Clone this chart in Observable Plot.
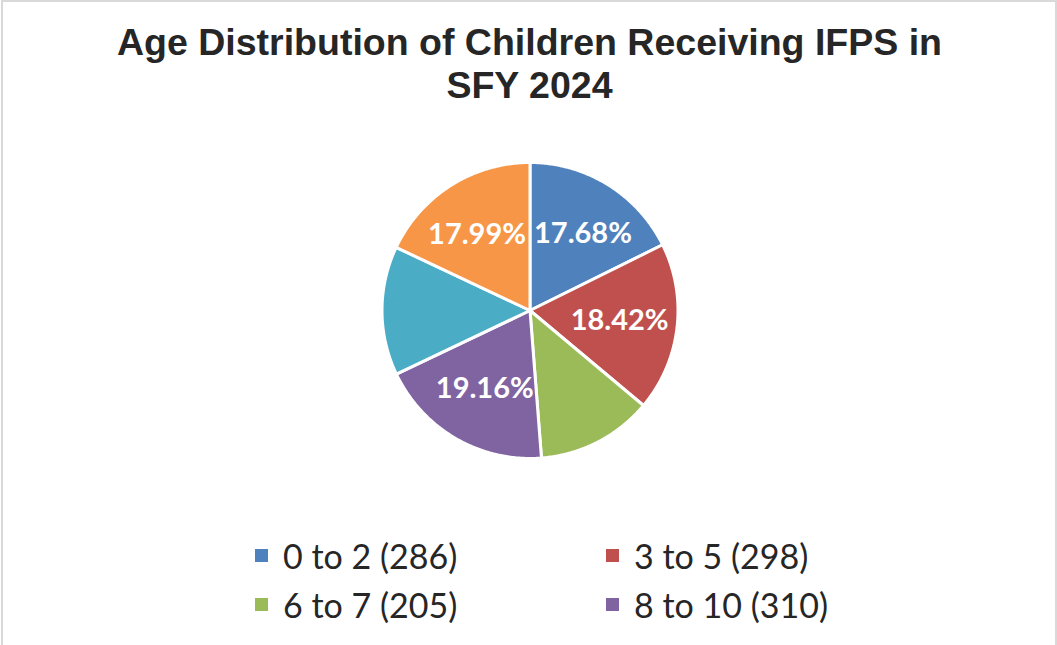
<!DOCTYPE html>
<html>
<head>
<meta charset="utf-8">
<script src="https://cdn.jsdelivr.net/npm/d3@7"></script>
<script src="https://cdn.jsdelivr.net/npm/@observablehq/plot@0.6"></script>
<style>
  html, body { margin: 0; padding: 0; background: #ffffff; }
  #page { position: relative; width: 1057px; height: 645px; overflow: hidden; background: #fff; }
  #frame { position: absolute; left: 1px; top: 0px; width: 1056px; height: 660px; box-sizing: border-box; border: 2px solid #d9d9d9; }
  #title { position: absolute; left: 0; top: 21px; width: 1059px; text-align: center;
           font-family: "Liberation Sans", Arial, sans-serif; font-weight: bold; font-size: 37.5px;
           line-height: 43px; color: #262626; }
  #plot { position: absolute; left: 0; top: 140px; }
  #legend { position: absolute; left: 0; top: 531px; width: 1057px; }
  .item { position: absolute; display: flex; align-items: center; height: 49px;
          font-family: Lato, "Open Sans", sans-serif; font-size: 34px; line-height: 49px; color: #262626; white-space: nowrap; }
  .sw { width: 13px; height: 13px; margin-right: 15px; flex: none; }
</style>
</head>
<body>
<div id="page">
  <div id="frame"></div>
  <div id="title"></div>
  <div id="plot"></div>
  <div id="legend"></div>
</div>
<script>
// ---- data ----
const titleLines = ["Age Distribution of Children Receiving IFPS in", "SFY 2024"];
const categories = ["0 to 2", "3 to 5", "6 to 7", "8 to 10", "11 to 13", "14 to 17"];
const counts = [286, 298, 205, 310, 228, 291];
const colors = ["#4F81BD", "#C0504D", "#9BBB59", "#8064A2", "#4BACC6", "#F79646"];
const labeledCategories = ["0 to 2", "3 to 5", "8 to 10", "14 to 17"];
const legendCategories = ["0 to 2", "3 to 5", "6 to 7", "8 to 10"];

// ---- title ----
document.getElementById("title").innerHTML = titleLines.map(t => `<div>${t}</div>`).join("");

// ---- pie geometry (computed from data) ----
const W = 1057, H = 340, cx = 529.5, cy = 170, r = 148;
const labelFont = "bold 29px Lato";
const total = d3.sum(counts);
const arcs = d3.pie().sort(null).value(d => d.count)(categories.map((c, i) => ({cat: c, count: counts[i]})));

const slicePts = [];
arcs.forEach(a => {
  slicePts.push({cat: a.data.cat, x: 0, y: 0});
  const n = Math.max(2, Math.ceil((a.endAngle - a.startAngle) / 0.01));
  for (let k = 0; k <= n; k++) {
    const t = a.startAngle + (a.endAngle - a.startAngle) * k / n;
    slicePts.push({cat: a.data.cat, x: Math.sin(t), y: Math.cos(t)});
  }
});

// measure label widths so labels next to the vertical split stay inside their slice
const ctx = document.createElement("canvas").getContext("2d");
ctx.font = labelFont;
const labelFrac = 0.61, gapPx = 4;
const labels = arcs.filter(a => labeledCategories.includes(a.data.cat)).map(a => {
  const m = (a.startAngle + a.endAngle) / 2;
  const text = (a.data.count / total * 100).toFixed(2) + "%";
  let x = labelFrac * Math.sin(m), y = labelFrac * Math.cos(m);
  const half = (ctx.measureText(text).width / 2 + gapPx) / r;
  if (y > 0 && Math.abs(x) < half) x = Math.sign(x) * half;
  return {cat: a.data.cat, x, y, text};
});

const chart = Plot.plot({
  width: W, height: H,
  margin: 0,
  x: {domain: [-1, 1], range: [cx - r, cx + r], axis: null},
  y: {domain: [-1, 1], range: [cy + r, cy - r], axis: null},
  color: {domain: categories, range: colors},
  style: {background: "transparent", overflow: "visible"},
  marks: [
    Plot.line(slicePts, {x: "x", y: "y", z: "cat", fill: "cat", stroke: "white",
                         strokeWidth: 3, strokeLinejoin: "round", curve: "linear-closed"}),
    Plot.text(labels, {x: "x", y: "y", text: "text", fill: "white",
                       fontFamily: "Lato, 'Open Sans', sans-serif", fontWeight: "bold", fontSize: 29})
  ]
});
document.getElementById("plot").appendChild(chart);

// ---- legend ----
const legend = document.getElementById("legend");
legendCategories.forEach((c, i) => {
  const idx = categories.indexOf(c);
  const el = document.createElement("div");
  el.className = "item";
  el.style.left = (i % 2 === 0 ? 255 : 606) + "px";
  el.style.top = (Math.floor(i / 2) * 49) + "px";
  el.innerHTML = `<span class="sw" style="background:${colors[idx]}"></span><span>${c} (${counts[idx]})</span>`;
  legend.appendChild(el);
});
</script>
</body>
</html>
